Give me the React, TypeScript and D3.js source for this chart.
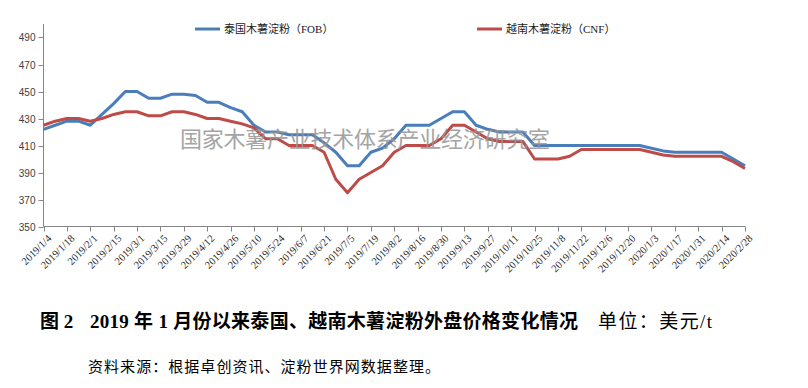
import { useEffect, useRef } from 'react';
import * as d3 from 'd3';

// weekly prices, USD/t, first week 2019/1/4
const thaiFob = [
  422, 425, 428, 428, 425, 433, 441, 450, 450, 445, 445, 448, 448, 447, 442, 442, 438, 435, 425, 420,
  420, 418, 418, 418, 412, 405, 395, 395, 405, 408, 415, 425, 425, 425, 430, 435, 435, 425, 422, 420,
  420, 420, 410, 410, 410, 410, 410, 410, 410, 410, 410, 410, 408, 406, 405, 405, 405, 405, 405, 400,
  395,
];
const vietCnf = [
  425, 428, 430, 430, 428, 430, 433, 435, 435, 432, 432, 435, 435, 433, 430, 430, 428, 426, 423, 415,
  415, 410, 410, 410, 405, 385, 375, 385, 390, 395, 405, 410, 410, 410, 415, 425, 425, 420, 415, 413,
  413, 413, 400, 400, 400, 402, 407, 407, 407, 407, 407, 407, 405, 403, 402, 402, 402, 402, 402, 398,
  393,
];
// one label every two weeks
const dateLabels = [
  '2019/1/4', '2019/1/18', '2019/2/1', '2019/2/15', '2019/3/1', '2019/3/15', '2019/3/29', '2019/4/12',
  '2019/4/26', '2019/5/10', '2019/5/24', '2019/6/7', '2019/6/21', '2019/7/5', '2019/7/19', '2019/8/2',
  '2019/8/16', '2019/8/30', '2019/9/13', '2019/9/27', '2019/10/11', '2019/10/25', '2019/11/8',
  '2019/11/22', '2019/12/6', '2019/12/20', '2020/1/3', '2020/1/17', '2020/1/31', '2020/2/14', '2020/2/28',
];
const yTicks = [350, 370, 390, 410, 430, 450, 470, 490];
const seriesNames = ['泰国木薯淀粉（FOB）', '越南木薯淀粉（CNF）'];
const colors = ['#4a7ebb', '#be4b48'];

export default function App() {
  const svgRef = useRef<SVGSVGElement>(null);

  useEffect(() => {
    if (!svgRef.current) return;
    const svg = d3.select(svgRef.current);
    svg.selectAll('*').remove();

    const left = 43.5;
    const right = 745;
    const top = 24;
    const bottom = 226.5;
    const axisColor = '#868686';

    const x = d3.scaleLinear().domain([0, thaiFob.length - 1]).range([left, right]);
    const y = d3.scaleLinear().domain([350, 500]).range([bottom, top]);

    // axes
    svg.append('line').attr('x1', left).attr('x2', left).attr('y1', top).attr('y2', bottom)
      .attr('stroke', axisColor);
    svg.append('line').attr('x1', left).attr('x2', right).attr('y1', bottom).attr('y2', bottom)
      .attr('stroke', axisColor);

    const yg = svg.append('g');
    yTicks.forEach((v) => {
      const yy = Math.round(y(v)) + 0.5;
      yg.append('line').attr('x1', left - 5).attr('x2', left).attr('y1', yy).attr('y2', yy)
        .attr('stroke', axisColor);
      yg.append('text').attr('x', left - 8).attr('y', yy).attr('dy', '0.35em')
        .attr('text-anchor', 'end').attr('font-family', "'Liberation Sans', Arial, sans-serif")
        .attr('font-size', 10).attr('fill', '#404040').text(v);
    });

    const xg = svg.append('g');
    dateLabels.forEach((lab, k) => {
      const xx = Math.round(x(k * 2)) + 0.5;
      xg.append('line').attr('x1', xx).attr('x2', xx).attr('y1', bottom).attr('y2', bottom + 5)
        .attr('stroke', axisColor);
      xg.append('text').attr('transform', `translate(${xx + 5},${bottom + 10}) rotate(-45)`)
        .attr('dy', '0.35em').attr('text-anchor', 'end')
        .attr('font-family', "'Liberation Serif', 'Times New Roman', serif")
        .attr('font-size', 10.5).attr('fill', '#262626').text(lab);
    });

    // lines
    const line = d3.line<number>().x((_, i) => x(i)).y((d) => y(d));
    [thaiFob, vietCnf].forEach((s, i) => {
      svg.append('path').datum(s).attr('fill', 'none').attr('stroke', colors[i])
        .attr('stroke-width', 3).attr('stroke-linejoin', 'round').attr('d', line);
    });

    // watermark
    svg.append('text').attr('x', 180).attr('y', 147).attr('font-family', "'Noto Sans CJK SC', sans-serif")
      .attr('font-size', 22).attr('fill', '#959595').attr('opacity', 0.85)
      .attr('textLength', 370).text('国家木薯产业技术体系产业经济研究室');

    // legend
    const legendX = [195, 477];
    seriesNames.forEach((name, i) => {
      svg.append('line').attr('x1', legendX[i]).attr('x2', legendX[i] + 25).attr('y1', 29).attr('y2', 29)
        .attr('stroke', colors[i]).attr('stroke-width', 3);
      svg.append('text').attr('x', legendX[i] + 29).attr('y', 33)
        .attr('font-family', "'Liberation Serif', 'Noto Sans CJK SC', serif")
        .attr('font-size', 11).attr('fill', '#1a1a1a').text(name);
    });

    // caption
    const capFont = "'Liberation Serif', 'Noto Sans CJK SC', serif";
    svg.append('text').attr('x', 40).attr('y', 328).attr('font-family', capFont).attr('font-size', 19)
      .attr('font-weight', 'bold').text('图 2');
    svg.append('text').attr('x', 90).attr('y', 328).attr('font-family', capFont).attr('font-size', 19)
      .attr('font-weight', 'bold').attr('textLength', 488)
      .text('2019 年 1 月份以来泰国、越南木薯淀粉外盘价格变化情况');
    svg.append('text').attr('x', 598).attr('y', 328).attr('font-family', capFont).attr('font-size', 19)
      .attr('textLength', 114).text('单位：美元/t');
    svg.append('text').attr('x', 88).attr('y', 372).attr('font-family', capFont).attr('font-size', 15)
      .attr('textLength', 352).text('资料来源：根据卓创资讯、淀粉世界网数据整理。');
  }, []);

  return (
    <svg
      ref={svgRef}
      width={808}
      height={388}
      style={{ position: 'absolute', left: 0, top: 0, background: '#fff' }}
    />
  );
}
